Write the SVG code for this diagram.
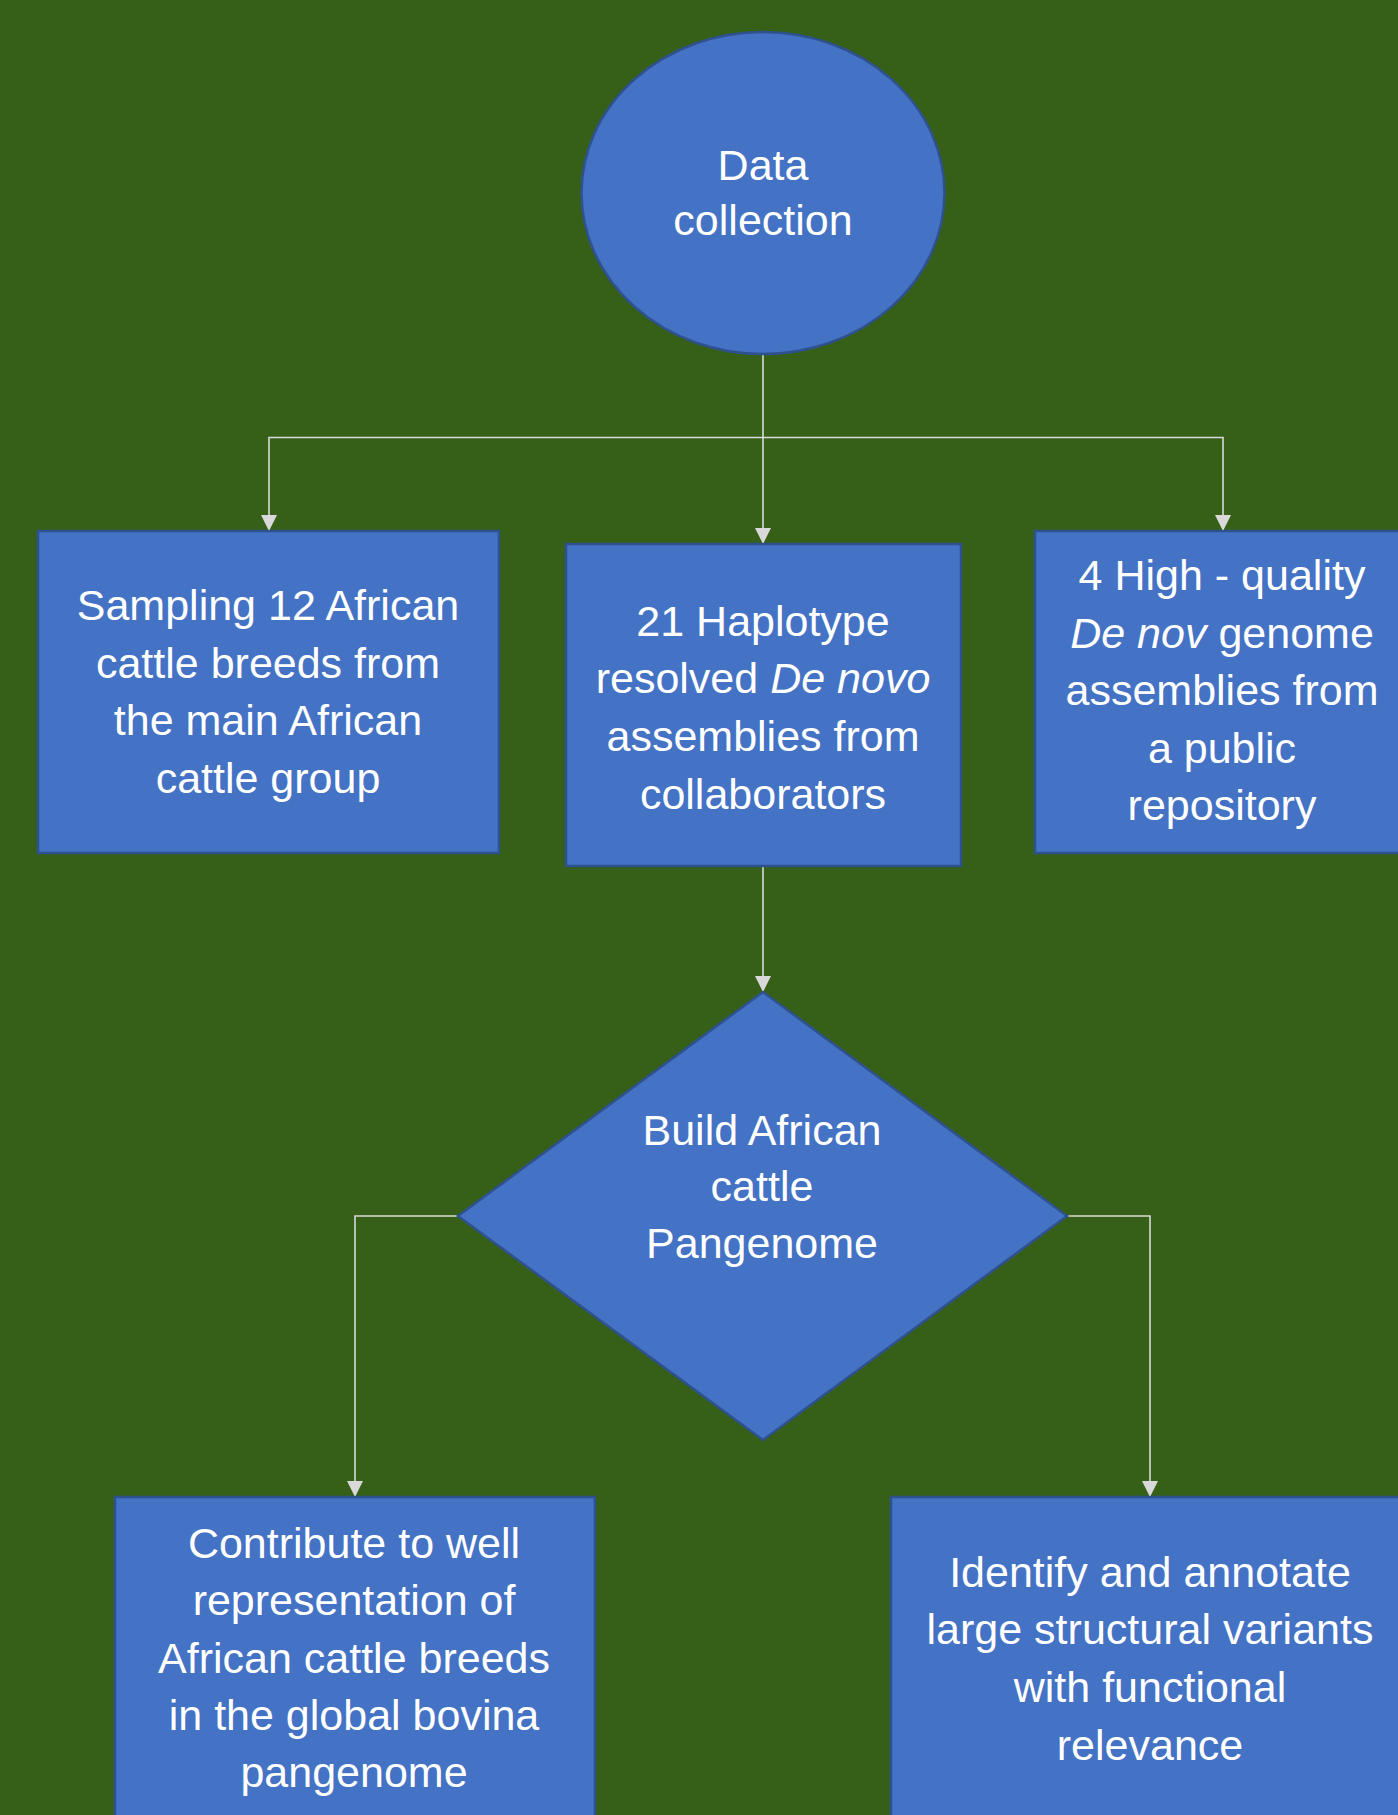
<svg xmlns="http://www.w3.org/2000/svg" width="1398" height="1815" viewBox="0 0 1398 1815">
<style>
.node{fill:#4472C4;stroke:#2F528F;stroke-width:2.5}
.lbl{font-family:"Liberation Sans",Arial,sans-serif;font-size:43px;fill:#FFFFFF;text-anchor:middle}
.it{font-style:italic}
.conn{fill:none;stroke:#D9D9D9;stroke-width:1.6}
</style>
<defs>
<marker id="arr" viewBox="0 0 16 16" refX="16" refY="8" markerWidth="16" markerHeight="16" markerUnits="userSpaceOnUse" orient="auto">
<path d="M0,0 L16,8 L0,16 Z" fill="#D9D9D9"/>
</marker>
</defs>
<rect x="0" y="0" width="1398" height="1815" fill="#365F17"/>
<g id="connectors">
<path class="conn" d="M763,354 V544" marker-end="url(#arr)"/>
<path class="conn" d="M763,437.5 H269 V531" marker-end="url(#arr)"/>
<path class="conn" d="M763,437.5 H1223 V531" marker-end="url(#arr)"/>
<path class="conn" d="M763,866 V992" marker-end="url(#arr)"/>
<path class="conn" d="M458,1216 H355 V1497" marker-end="url(#arr)"/>
<path class="conn" d="M1067,1216 H1150 V1497" marker-end="url(#arr)"/>
</g>
<g id="data-collection">
<ellipse class="node" cx="763" cy="193" rx="181.5" ry="161"/>
<text class="lbl"><tspan x="763" y="180">Data</tspan><tspan x="763" y="235">collection</tspan></text>
</g>
<g id="sampling">
<rect class="node" x="38" y="531" width="461" height="322"/>
<text class="lbl"><tspan x="268" y="620">Sampling 12 African</tspan><tspan x="268" y="677.5">cattle breeds from</tspan><tspan x="268" y="735">the main African</tspan><tspan x="268" y="792.5">cattle group</tspan></text>
</g>
<g id="haplotype">
<rect class="node" x="566" y="544" width="395" height="322"/>
<text class="lbl"><tspan x="763" y="636">21 Haplotype</tspan><tspan x="763" y="693">resolved <tspan class="it">De novo</tspan></tspan><tspan x="763" y="751">assemblies from</tspan><tspan x="763" y="809">collaborators</tspan></text>
</g>
<g id="high-quality">
<rect class="node" x="1035" y="531" width="376" height="322"/>
<text class="lbl"><tspan x="1222" y="590">4 High - quality</tspan><tspan x="1222" y="647.5"><tspan class="it">De nov</tspan> genome</tspan><tspan x="1222" y="705">assemblies from</tspan><tspan x="1222" y="762.5">a public</tspan><tspan x="1222" y="820">repository</tspan></text>
</g>
<g id="pangenome">
<polygon class="node" points="763,992 1067,1216 763,1440 458,1216"/>
<text class="lbl"><tspan x="762" y="1145">Build African</tspan><tspan x="762" y="1201">cattle</tspan><tspan x="762" y="1258">Pangenome</tspan></text>
</g>
<g id="contribute">
<rect class="node" x="115" y="1497" width="480" height="340"/>
<text class="lbl"><tspan x="354" y="1558">Contribute to well</tspan><tspan x="354" y="1615">representation of</tspan><tspan x="354" y="1673">African cattle breeds</tspan><tspan x="354" y="1730">in the global bovina</tspan><tspan x="354" y="1787">pangenome</tspan></text>
</g>
<g id="identify">
<rect class="node" x="891" y="1497" width="518" height="340"/>
<text class="lbl"><tspan x="1150" y="1587">Identify and annotate</tspan><tspan x="1150" y="1644">large structural variants</tspan><tspan x="1150" y="1702">with functional</tspan><tspan x="1150" y="1760">relevance</tspan></text>
</g>
</svg>
